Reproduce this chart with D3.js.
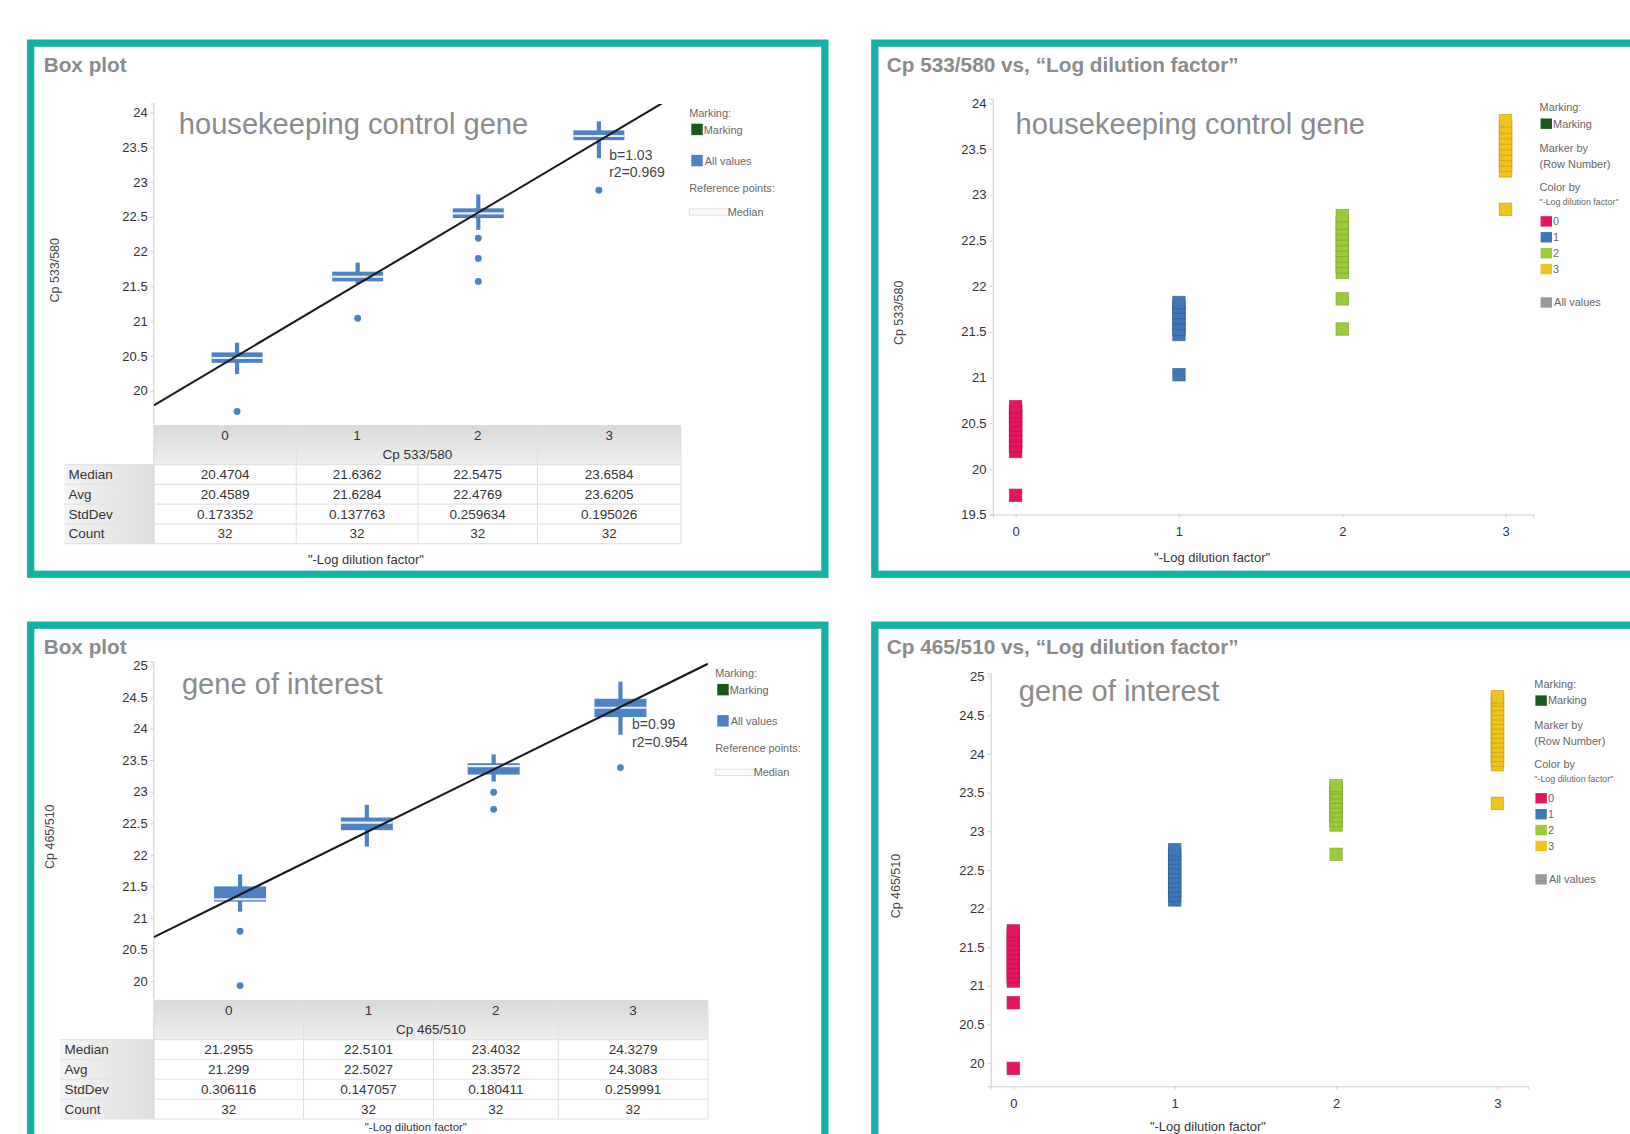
<!DOCTYPE html>
<html><head><meta charset="utf-8">
<script src="https://cdn.jsdelivr.net/npm/d3@7"></script>
<style>html,body{margin:0;padding:0;background:#fff;overflow:hidden}</style>
</head><body>
<svg id="c" width="1630" height="1134" viewBox="0 0 1568 1091" preserveAspectRatio="none"></svg>
<script>
// ================= DATA =================
const categories = [0, 1, 2, 3];
const categoryLabels = ["0", "1", "2", "3"];
const statNames = ["Median", "Avg", "StdDev", "Count"];
const yTicksHK = [19.5, 20, 20.5, 21, 21.5, 22, 22.5, 23, 23.5, 24];
const yTicksGOI = [20, 20.5, 21, 21.5, 22, 22.5, 23, 23.5, 24, 24.5, 25];

// housekeeping control gene (Cp 533/580)
const hkMedian = [20.4704, 21.6362, 22.5475, 23.6584];
const hkAvg = [20.4589, 21.6284, 22.4769, 23.6205];
const hkStdDev = [0.173352, 0.137763, 0.259634, 0.195026];
const hkCount = [32, 32, 32, 32];
const hkQ1 = [20.40, 21.57, 22.48, 23.60];
const hkQ3 = [20.55, 21.71, 22.62, 23.74];
const hkWhiskerLow = [20.24, 21.54, 22.31, 23.34];
const hkWhiskerHigh = [20.69, 21.84, 22.82, 23.87];
const hkOutliers = [[19.70], [21.04], [22.19, 21.90, 21.57], [22.88]];
const hkSlope = 1.03, hkIntercept = 20.50, hkR2 = 0.969;
const hkPoints = [
  [19.71, 20.19, 20.25, 20.31, 20.37, 20.43, 20.48, 20.53, 20.58, 20.63, 20.68],
  [21.03, 21.47, 21.53, 21.59, 21.65, 21.71, 21.77, 21.82],
  [21.53, 21.86, 22.15, 22.21, 22.27, 22.33, 22.39, 22.45, 22.51, 22.57, 22.63, 22.69, 22.77],
  [22.84, 23.26, 23.32, 23.38, 23.44, 23.50, 23.56, 23.62, 23.68, 23.74, 23.81]
];

// gene of interest (Cp 465/510)
const goiMedian = [21.2955, 22.5101, 23.4032, 24.3279];
const goiAvg = [21.299, 22.5027, 23.3572, 24.3083];
const goiStdDev = [0.306116, 0.147057, 0.180411, 0.259991];
const goiCount = [32, 32, 32, 32];
const goiQ1 = [21.26, 22.39, 23.27, 24.18];
const goiQ3 = [21.50, 22.59, 23.45, 24.47];
const goiWhiskerLow = [21.10, 22.13, 23.16, 23.90];
const goiWhiskerHigh = [21.69, 22.79, 23.59, 24.74];
const goiOutliers = [[20.79, 19.93], [], [22.99, 22.72], [23.38]];
const goiSlope = 0.99, goiIntercept = 21.37, goiR2 = 0.954;
const goiPoints = [
  [19.93, 20.78, 21.06, 21.12, 21.18, 21.24, 21.30, 21.36, 21.42, 21.48, 21.54, 21.60, 21.66, 21.71],
  [22.11, 22.17, 22.23, 22.29, 22.35, 22.41, 22.47, 22.53, 22.59, 22.65, 22.71, 22.76],
  [22.70, 23.08, 23.14, 23.20, 23.26, 23.32, 23.38, 23.44, 23.50, 23.56, 23.59],
  [23.36, 23.86, 23.92, 23.98, 24.04, 24.10, 24.16, 24.22, 24.28, 24.34, 24.40, 24.46, 24.52, 24.58, 24.64, 24.70, 24.74]
];

const categoryColors = ["#e5165f", "#3f77b7", "#9bcb3b", "#f2c31c"];

// ================= DRAWING =================
const NARROW = "'Liberation Sans Narrow','Arial Narrow','Liberation Sans',Arial,sans-serif";
const SANS = "'Liberation Sans',Arial,sans-serif";
const TEAL = "#13b1a6";
const TITLE_GRAY = "#8b8b8b";
const BOX_BLUE = "#4d83c3";
const svg = d3.select("#c");
svg.append("rect").attr("width", 1568).attr("height", 1091).attr("fill", "#fff");

const defs = svg.append("defs");
const hdrGrad = defs.append("linearGradient").attr("id", "hdr").attr("x1", 0).attr("y1", 0).attr("x2", 0).attr("y2", 1);
hdrGrad.append("stop").attr("offset", "0%").attr("stop-color", "#d9d9d9");
hdrGrad.append("stop").attr("offset", "100%").attr("stop-color", "#efefef");
const lblGrad = defs.append("linearGradient").attr("id", "lbl").attr("x1", 0).attr("y1", 0).attr("x2", 1).attr("y2", 0);
lblGrad.append("stop").attr("offset", "0%").attr("stop-color", "#f4f4f4");
lblGrad.append("stop").attr("offset", "100%").attr("stop-color", "#dedede");

function frame(x, y, w, h) {
  svg.append("rect").attr("x", x).attr("y", y).attr("width", w).attr("height", h)
    .attr("fill", "none").attr("stroke", TEAL).attr("stroke-width", 7);
}
function title(x, y, t) {
  svg.append("text").attr("x", x).attr("y", y).text(t)
    .attr("font-family", SANS).attr("font-weight", "bold").attr("font-size", 20).attr("fill", TITLE_GRAY);
}
function overlay(x, y, t) {
  svg.append("text").attr("x", x).attr("y", y).text(t)
    .attr("font-family", SANS).attr("font-size", 28).attr("fill", TITLE_GRAY);
}
function smallText(g, x, y, t, size, anchor, color) {
  return g.append("text").attr("x", x).attr("y", y).attr("dy", "0.35em").text(t)
    .attr("font-family", NARROW).attr("font-size", size || 11)
    .attr("text-anchor", anchor || "start").attr("fill", color || "#555");
}

function styleAxis(ax, size) {
  ax.select(".domain").attr("stroke", "#d0d0d0");
  ax.selectAll(".tick line").attr("stroke", "#d0d0d0");
  ax.selectAll(".tick text").attr("font-family", NARROW).attr("font-size", size).attr("fill", "#333");
}

function drawBoxPanel(c) {
  const g = svg.append("g");
  const x = d3.scaleLinear().domain(c.xDomain).range([c.left, c.right]);
  const y = d3.scaleLinear().domain(c.yDomain).range([c.bottom, c.top]);

  const ax = g.append("g").attr("transform", `translate(${c.left},0)`)
    .call(d3.axisLeft(y).tickValues(c.yTicks).tickSize(3).tickFormat(d => String(d)));
  styleAxis(ax, 12.5);
  ax.select(".domain").attr("d", `M-3,${c.top}H0V${c.bottom}`);

  g.append("text").attr("transform", `translate(${c.yLabelX},${(c.top + c.bottom) / 2 + 6}) rotate(-90)`)
    .attr("text-anchor", "middle").attr("font-family", NARROW).attr("font-size", 12).attr("fill", "#444").text(c.yLabel);

  categories.forEach((k, i) => {
    const cx = x(k);
    g.append("line").attr("x1", cx).attr("x2", cx).attr("y1", y(c.lo[i])).attr("y2", y(c.hi[i]))
      .attr("stroke", BOX_BLUE).attr("stroke-width", 4);
    g.append("rect").attr("x", cx - c.boxW / 2).attr("width", c.boxW)
      .attr("y", y(c.q3[i])).attr("height", y(c.q1[i]) - y(c.q3[i])).attr("fill", BOX_BLUE);
    g.append("line").attr("x1", cx - c.boxW / 2).attr("x2", cx + c.boxW / 2)
      .attr("y1", y(c.median[i])).attr("y2", y(c.median[i])).attr("stroke", "#e8eef7").attr("stroke-width", 2);
    c.outliers[i].forEach(v => {
      g.append("circle").attr("cx", cx).attr("cy", y(v)).attr("r", 3.3).attr("fill", BOX_BLUE);
    });
  });

  const clipId = "clip" + c.id;
  defs.append("clipPath").attr("id", clipId).append("rect")
    .attr("x", c.left).attr("y", c.top).attr("width", c.right - c.left).attr("height", c.bottom - c.top);
  const lineData = c.xDomain.map(v => [v, c.intercept + c.slope * v]);
  g.append("path").attr("clip-path", `url(#${clipId})`)
    .attr("d", d3.line().x(d => x(d[0])).y(d => y(d[1]))(lineData))
    .attr("stroke", "#1a1a1a").attr("stroke-width", 2).attr("fill", "none");

  smallText(g, c.annX, c.annY, "b=" + c.slope.toFixed(2), 13.5, "start", "#444");
  smallText(g, c.annX, c.annY + 17, "r2=" + c.r2.toFixed(3), 13.5, "start", "#444");

  const L = c.legendX, T = c.legendY;
  smallText(g, L, T, "Marking:", 10.5, "start", "#666");
  g.append("rect").attr("x", L + 2).attr("y", T + 10).attr("width", 11).attr("height", 11).attr("fill", "#19591c");
  smallText(g, L + 14, T + 16, "Marking", 10.5, "start", "#666");
  g.append("rect").attr("x", L + 2).attr("y", T + 40).attr("width", 11).attr("height", 11).attr("fill", BOX_BLUE);
  smallText(g, L + 15, T + 46, "All values", 10.5, "start", "#666");
  smallText(g, L, T + 72, "Reference points:", 10.5, "start", "#666");
  g.append("rect").attr("x", L).attr("y", T + 92).attr("width", 38).attr("height", 6).attr("fill", "#fafafa")
    .attr("stroke", "#d8d8d8").attr("stroke-width", 0.8);
  smallText(g, L + 37, T + 95, "Median", 10.5, "start", "#666");

  overlay(c.overlayX, c.overlayY, c.overlay);

  const edges = c.colEdges, rowH = c.rowH, t0 = c.tableTop;
  const hdr1 = t0, hdr2 = t0 + rowH, body0 = t0 + 2 * rowH;
  g.append("rect").attr("x", edges[0]).attr("y", hdr1).attr("width", edges[4] - edges[0]).attr("height", 2 * rowH).attr("fill", "url(#hdr)");
  g.append("rect").attr("x", c.tableLeft).attr("y", body0).attr("width", edges[0] - c.tableLeft).attr("height", 4 * rowH).attr("fill", "url(#lbl)");
  for (let i = 0; i < 4; i++) {
    g.append("line").attr("x1", edges[i]).attr("x2", edges[i]).attr("y1", hdr1).attr("y2", body0 + 4 * rowH)
      .attr("stroke", i === 0 ? "#d6d6d6" : "#e0e0e0").attr("stroke-width", 1);
  }
  g.append("line").attr("x1", edges[4]).attr("x2", edges[4]).attr("y1", hdr1).attr("y2", body0 + 4 * rowH).attr("stroke", "#e0e0e0");
  for (let r = 0; r <= 4; r++) {
    g.append("line").attr("x1", c.tableLeft).attr("x2", edges[4]).attr("y1", body0 + r * rowH).attr("y2", body0 + r * rowH)
      .attr("stroke", "#e3e3e3");
  }
  categoryLabels.forEach((lab, i) => {
    smallText(g, (edges[i] + edges[i + 1]) / 2, hdr1 + rowH / 2, lab, 13, "middle", "#333");
  });
  smallText(g, (edges[0] + edges[4]) / 2, hdr2 + rowH / 2, c.yLabel, 13, "middle", "#333");
  const rows = [c.median, c.avg, c.std, c.count];
  statNames.forEach((s, r) => {
    smallText(g, c.tableLeft + 4, body0 + r * rowH + rowH / 2, s, 13, "start", "#333");
    rows[r].forEach((v, i) => {
      smallText(g, (edges[i] + edges[i + 1]) / 2, body0 + r * rowH + rowH / 2, String(v), 13, "middle", "#333");
    });
  });
  smallText(g, c.xLabelX, c.xLabelY, "\"-Log dilution factor\"", c.xLabelSize || 12.5, "middle", "#333");
}

function drawScatterPanel(c) {
  const g = svg.append("g");
  const x = d3.scaleLinear().domain(c.xDomain).range([c.left, c.right]);
  const y = d3.scaleLinear().domain(c.yDomain).range([c.bottom, c.top]);
  const ay = g.append("g").attr("transform", `translate(${c.left},0)`)
    .call(d3.axisLeft(y).tickValues(c.yTicks).tickSize(3).tickFormat(d => String(d)));
  styleAxis(ay, 12.5);
  const axx = g.append("g").attr("transform", `translate(0,${c.bottom})`)
    .call(d3.axisBottom(x).tickValues(categories).tickSize(3).tickFormat((d, i) => categoryLabels[i]));
  styleAxis(axx, 12.5);
  axx.selectAll(".tick text").attr("dy", "1.2em");
  g.append("text").attr("transform", `translate(${c.yLabelX},${(c.top + c.bottom) / 2 + 6}) rotate(-90)`)
    .attr("text-anchor", "middle").attr("font-family", NARROW).attr("font-size", 12).attr("fill", "#444").text(c.yLabel);
  smallText(g, c.xLabelX, c.xLabelY, "\"-Log dilution factor\"", 12.5, "middle", "#333");

  const ms = 12;
  categories.forEach((k, i) => {
    const col = d3.color(categoryColors[i]);
    c.points[i].forEach(v => {
      g.append("rect").attr("x", x(k) - ms / 2).attr("y", y(v) - ms / 2).attr("width", ms).attr("height", ms)
        .attr("fill", categoryColors[i]).attr("stroke", col.darker(0.8)).attr("stroke-opacity", 0.6).attr("stroke-width", 0.9);
    });
  });

  overlay(c.overlayX, c.overlayY, c.overlay);

  const L = c.legendX, T = c.legendY;
  smallText(g, L, T, "Marking:", 10.5, "start", "#666");
  g.append("rect").attr("x", L + 1).attr("y", T + 11).attr("width", 11).attr("height", 10).attr("fill", "#19591c");
  smallText(g, L + 13, T + 16, "Marking", 10.5, "start", "#666");
  smallText(g, L, T + 40, "Marker by", 10.5, "start", "#666");
  smallText(g, L, T + 55, "(Row Number)", 10.5, "start", "#666");
  smallText(g, L, T + 77, "Color by", 10.5, "start", "#666");
  smallText(g, L, T + 91, "\"-Log dilution factor\"", 9.5, "start", "#666")
    .attr("textLength", 76).attr("lengthAdjust", "spacingAndGlyphs");
  categories.forEach((k, i) => {
    g.append("rect").attr("x", L + 1).attr("y", T + 105 + i * 15.3).attr("width", 11).attr("height", 10).attr("fill", categoryColors[i]);
    smallText(g, L + 13, T + 110 + i * 15.3, categoryLabels[i], 10.5, "start", "#666");
  });
  g.append("rect").attr("x", L + 1).attr("y", T + 183).attr("width", 11).attr("height", 10).attr("fill", "#9a9a9a");
  smallText(g, L + 14, T + 188, "All values", 10.5, "start", "#666");
}

frame(29.5, 41.5, 764, 511);
frame(841.5, 41.5, 800, 511);
frame(29.5, 601.5, 764, 560);
frame(841.5, 601.5, 800, 560);

title(42, 69, "Box plot");
title(42, 629, "Box plot");
title(853, 69, "Cp 533/580 vs, \u201cLog dilution factor\u201d");
title(853, 629, "Cp 465/510 vs, \u201cLog dilution factor\u201d");

drawBoxPanel({
  id: "hk", left: 148, right: 655, top: 100, bottom: 408,
  xDomain: [-0.69, 3.68], yDomain: [19.52, 24.12], yTicks: yTicksHK.slice(1),
  yLabel: "Cp 533/580", yLabelX: 57,
  median: hkMedian, avg: hkAvg, std: hkStdDev, count: hkCount,
  q1: hkQ1, q3: hkQ3, lo: hkWhiskerLow, hi: hkWhiskerHigh, outliers: hkOutliers, boxW: 49,
  slope: hkSlope, intercept: hkIntercept, r2: hkR2, annX: 586, annY: 149,
  legendX: 663, legendY: 109,
  overlay: "housekeeping control gene", overlayX: 172, overlayY: 129,
  colEdges: [148, 285, 402, 517, 655], tableLeft: 62, tableTop: 409, rowH: 19,
  xLabelX: 352, xLabelY: 538
});

drawBoxPanel({
  id: "goi", left: 148, right: 681, top: 637, bottom: 961,
  xDomain: [-0.68, 3.69], yDomain: [19.72, 25.05], yTicks: yTicksGOI,
  yLabel: "Cp 465/510", yLabelX: 52,
  median: goiMedian, avg: goiAvg, std: goiStdDev, count: goiCount,
  q1: goiQ1, q3: goiQ3, lo: goiWhiskerLow, hi: goiWhiskerHigh, outliers: goiOutliers, boxW: 50,
  slope: goiSlope, intercept: goiIntercept, r2: goiR2, annX: 608, annY: 697,
  legendX: 688, legendY: 648,
  overlay: "gene of interest", overlayX: 175, overlayY: 668,
  colEdges: [148, 292, 417, 537, 681], tableLeft: 58, tableTop: 962, rowH: 19.1,
  xLabelX: 400, xLabelY: 1084, xLabelSize: 11
});

drawScatterPanel({
  left: 955, right: 1475, top: 95, bottom: 495,
  xDomain: [-0.14, 3.17], yDomain: [19.5, 24.05], yTicks: yTicksHK,
  yLabel: "Cp 533/580", yLabelX: 869, xLabelX: 1166, xLabelY: 536,
  points: hkPoints,
  overlay: "housekeeping control gene", overlayX: 977, overlayY: 129,
  legendX: 1481, legendY: 103
});

drawScatterPanel({
  left: 953, right: 1470, top: 648, bottom: 1045,
  xDomain: [-0.14, 3.19], yDomain: [19.70, 25.04], yTicks: yTicksGOI,
  yLabel: "Cp 465/510", yLabelX: 866, xLabelX: 1162, xLabelY: 1084,
  points: goiPoints,
  overlay: "gene of interest", overlayX: 980, overlayY: 674,
  legendX: 1476, legendY: 658
});
</script>
</body></html>
